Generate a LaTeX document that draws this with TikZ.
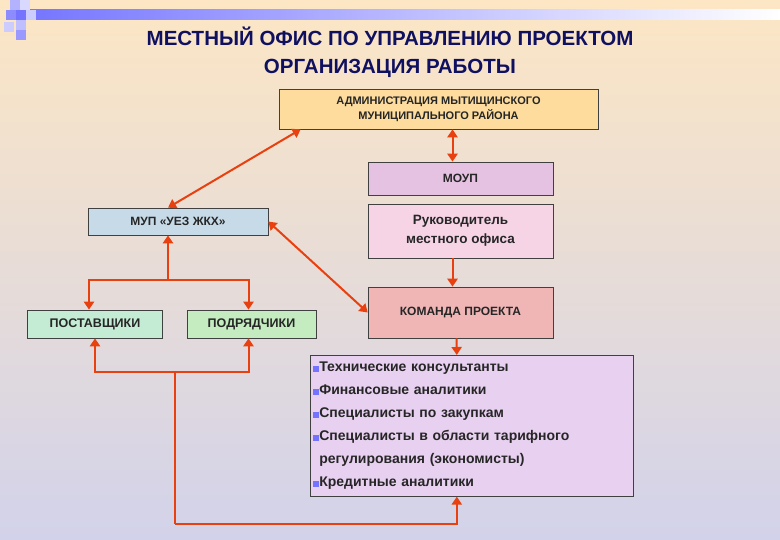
\documentclass[tikz,border=0pt]{standalone}
\usepackage{fontspec}
\setmainfont{Liberation Sans}
\usetikzlibrary{arrows.meta,calc}
\definecolor{bgtop}{HTML}{FCE6C4}
\definecolor{bgbot}{HTML}{D2D2EA}
\definecolor{arr}{HTML}{E8400F}
\definecolor{ttl}{HTML}{101060}
\definecolor{cadm}{HTML}{FDDC9E}
\definecolor{cmou}{HTML}{E6C2E2}
\definecolor{cruk}{HTML}{F6D4E6}
\definecolor{cmup}{HTML}{C6DAE8}
\definecolor{ckom}{HTML}{F0B6B6}
\definecolor{cpos}{HTML}{C4ECD4}
\definecolor{cpod}{HTML}{C4ECC0}
\definecolor{clst}{HTML}{E8D0F0}
\tikzset{
  box/.style={draw=black!75, line width=0.6pt, minimum height=#1, font=\bfseries\fontsize{12}{15}\selectfont, align=center, text=black!85, inner sep=0pt},
  con/.style={draw=arr, line width=2pt, -{Triangle[width=10pt,length=8pt]}},
  dcon/.style={draw=arr, line width=2pt, {Triangle[width=10pt,length=8pt]}-{Triangle[width=10pt,length=8pt]}},
  plain/.style={draw=arr, line width=2pt}
}
\begin{document}
\begin{tikzpicture}[x=1pt,y=-1pt]
\useasboundingbox (0,0) rectangle (780,540);
\shade[top color=bgtop, bottom color=bgbot] (0,0) rectangle (780,540);
\shade[left color=blue!55!white, right color=white] (14,10) rectangle (780,20);
\fill[blue!30!white] (10,0) rectangle (20,10);
\fill[blue!15!white] (20,0) rectangle (30,10);
\fill[blue!45!white] (6,10) rectangle (16,20);
\fill[blue!20!white] (26,10) rectangle (36,20);
\fill[blue!25!white] (16,20) rectangle (26,30);
\fill[blue!40!white] (16,30) rectangle (26,40);
\fill[white!80!blue] (4,22) rectangle (14,32);
\node (t) [font=\bfseries\fontsize{20.5}{28}\selectfont, text=ttl, align=center] at (390,52) {МЕСТНЫЙ ОФИС ПО УПРАВЛЕНИЮ ПРОЕКТОМ\\ОРГАНИЗАЦИЯ РАБОТЫ};
\node (adm) [box=40pt, minimum width=319pt, fill=cadm, font=\bfseries\fontsize{11}{15}\selectfont] at (438.5,109) {АДМИНИСТРАЦИЯ МЫТИЩИНСКОГО\\МУНИЦИПАЛЬНОГО РАЙОНА};
\node (mou) [box=33pt, minimum width=185pt, fill=cmou] at (460.5,178.5) {МОУП};
\node (ruk) [box=54pt, minimum width=185pt, fill=cruk, font=\bfseries\fontsize{13.5}{19}\selectfont] at (460.5,231) {Руководитель\\местного офиса};
\node (mup) [box=27pt, minimum width=180pt, fill=cmup] at (178,221.5) {МУП «УЕЗ ЖКХ»};
\node (kom) [box=51pt, minimum width=185pt, fill=ckom] at (460.5,312.5) {КОМАНДА ПРОЕКТА};
\node (pos) [box=28pt, minimum width=135pt, fill=cpos, font=\bfseries\fontsize{12.5}{15}\selectfont] at (95,324) {ПОСТАВЩИКИ};
\node (pod) [box=28pt, minimum width=129pt, fill=cpod, font=\bfseries\fontsize{12.5}{15}\selectfont] at (251.5,324) {ПОДРЯДЧИКИ};
\node (lst) [box=141pt, minimum width=323pt, fill=clst, align=left, anchor=north west, inner xsep=3pt, text width=317pt, font=\bfseries\fontsize{14}{23}\selectfont] at (310,355)
{{\color{blue!55}\rule{6pt}{6pt}}Технические консультанты\\
{\color{blue!55}\rule{6pt}{6pt}}Финансовые аналитики\\
{\color{blue!55}\rule{6pt}{6pt}}Специалисты по закупкам\\
{\color{blue!55}\rule{6pt}{6pt}}Специалисты в области тарифного\\
\hspace*{6pt}регулирования (экономисты)\\
{\color{blue!55}\rule{6pt}{6pt}}Кредитные аналитики};
% connectors
\coordinate (j1) at (168,280);
\coordinate (j2) at (175,372);
\coordinate (j3) at (175,524);
\draw[dcon] ($(adm.south)+(14,0)$) -- ($(mou.north)+(-8,0)$);
\draw[dcon] ($(adm.south west)+(22,0)$) -- ($(mup.north)+(-10,0)$);
\draw[con] ($(ruk.south)+(-8,0)$) -- ($(kom.north)+(-8,0)$);
\draw[dcon] (mup.east) -- (kom.west);
\draw[con] (j1) -- (j1 |- mup.south);
\draw[con] (j1) -| ($(pos.north)+(-6,0)$);
\draw[con] (j1) -| ($(pod.north)+(-3,0)$);
\draw[con] ($(kom.south)+(-4,0)$) -- ($(lst.north)+(-15,0)$);
\draw[con] (j2) -| ($(pos.south)$);
\draw[con] (j2) -| ($(pod.south)+(-3,0)$);
\draw[plain] (j2) -- (j3);
\draw[con] (j3) -| ($(lst.south)+(-15,0)$);
\end{tikzpicture}
\end{document}
